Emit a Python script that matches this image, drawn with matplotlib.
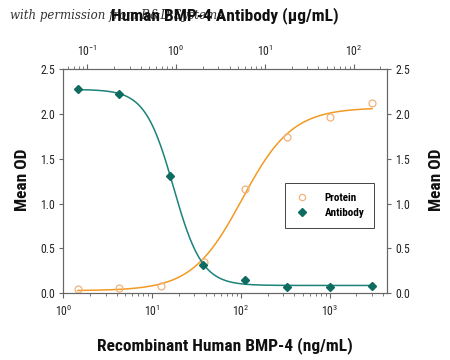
import numpy as np
import matplotlib
matplotlib.use("Agg")
import matplotlib.pyplot as plt
from matplotlib import font_manager
from matplotlib.ticker import LogLocator, LogFormatterSciNotation, NullFormatter, MultipleLocator, FormatStrFormatter
from matplotlib.lines import Line2D

# ---------------- data ----------------
protein_conc = [1.46, 4.2, 12.5, 38, 112, 333, 1000, 3000]          # ng/mL
protein_od = [0.05, 0.06, 0.085, 0.35, 1.16, 1.74, 1.96, 2.12]
antibody_conc = [0.079, 0.226, 0.855, 2.01, 6.05, 18.0, 54.2, 161]  # ug/mL
antibody_od = [2.28, 2.22, 1.31, 0.32, 0.15, 0.07, 0.07, 0.085]

bottom_lim = [1.0, 4400.0]
top_lim = [0.0536, 236.0]
y_lim = [0.0, 2.5]

title_text = "Human BMP-4 Antibody (\u00b5g/mL)"
xlabel_text = "Recombinant Human BMP-4 (ng/mL)"
ylabel_text = "Mean OD"
watermark_text = "with permission from R&D Systems"
legend_labels = ["Protein", "Antibody"]

# ---------------- fonts ----------------
def pick(cands):
    for c in cands:
        try:
            font_manager.findfont(font_manager.FontProperties(family=c), fallback_to_default=False)
            return c
        except Exception:
            pass
    return "DejaVu Sans"

cond = pick(["Liberation Sans Narrow", "Roboto Condensed", "Open Sans Condensed", "Noto Sans", "Liberation Sans"])
plt.rcParams['font.family'] = [cond, 'DejaVu Sans']
plt.rcParams['mathtext.default'] = 'regular'

# ---------------- 4PL fit ----------------
def fourpl_fit(x, y):
    lx = np.log10(np.asarray(x, float))
    y = np.asarray(y, float)
    best = None
    for lc in np.linspace(lx.min(), lx.max(), 300):
        for b in np.linspace(0.4, 4.0, 200):
            g = 1.0 / (1.0 + 10 ** (b * (lx - lc)))
            A = np.vstack([g, 1 - g]).T
            coef, res, *_ = np.linalg.lstsq(A, y, rcond=None)
            r = np.sum((A @ coef - y) ** 2)
            if best is None or r < best[0]:
                best = (r, lc, b, coef)
    _, lc, b, coef = best
    def f(xx):
        g = 1.0 / (1.0 + 10 ** (b * (np.log10(xx) - lc)))
        return coef[0] * g + coef[1] * (1 - g)
    return f

fp = fourpl_fit(protein_conc, protein_od)
fa = fourpl_fit(antibody_conc, antibody_od)

# ---------------- figure ----------------
fig = plt.figure(figsize=(4.5, 3.6), dpi=100)
ax = fig.add_axes([0.1407, 0.1853, 0.7186, 0.623])
ax2 = ax.twiny()

orange_line = '#F29A22'
orange_mk = '#F2B27A'
teal_line = '#1B8379'
teal_mk = '#0E6B60'

xp = np.logspace(np.log10(protein_conc[0]), np.log10(protein_conc[-1]), 300)
ax.plot(xp, fp(xp), color=orange_line, lw=1.1, zorder=2)
ax.plot(protein_conc, protein_od, 'o', ms=5, mfc='none', mec=orange_mk, mew=0.9, zorder=3)

xa = np.logspace(np.log10(antibody_conc[0]), np.log10(antibody_conc[-1]), 300)
ax2.plot(xa, fa(xa), color=teal_line, lw=1.1, zorder=2)
ax2.plot(antibody_conc, antibody_od, 'D', ms=4.2, mfc=teal_mk, mec=teal_mk, zorder=3)

for a in (ax, ax2):
    a.set_xscale('log')
ax.set_xlim(*bottom_lim)
ax2.set_xlim(*top_lim)
ax.set_ylim(*y_lim)

spine_c = '#666666'
for a in (ax, ax2):
    for s in a.spines.values():
        s.set_color(spine_c)
        s.set_linewidth(0.8)

ax.yaxis.set_major_locator(MultipleLocator(0.5))
ax.yaxis.set_major_formatter(FormatStrFormatter('%.1f'))
ax.tick_params(axis='y', which='both', left=True, right=True, labelleft=True, labelright=True,
               direction='out', length=3, width=0.8, color=spine_c, labelsize=8.5, pad=3, labelcolor='#222222')

for a, side in ((ax, 'bottom'), (ax2, 'top')):
    a.xaxis.set_major_locator(LogLocator(base=10, numticks=10))
    a.xaxis.set_minor_locator(LogLocator(base=10, subs=np.arange(2, 10), numticks=20))
    a.xaxis.set_major_formatter(LogFormatterSciNotation())
    a.xaxis.set_minor_formatter(NullFormatter())
    a.tick_params(axis='x', which='major', direction='out', length=3.5, width=0.8,
                  color=spine_c, labelsize=8.5, pad=4, labelcolor='#222222')
    a.tick_params(axis='x', which='minor', direction='out', length=2, width=0.6, color=spine_c)

# labels
lab_kw = dict(fontsize=12.5, fontweight='bold', color='#111111')
fig.text(0.5, 0.040, xlabel_text, ha='center', va='center', **lab_kw)
fig.text(0.5, 0.958, title_text, ha='center', va='center', zorder=5, **lab_kw)
fig.text(0.049, 0.50, ylabel_text, ha='center', va='center', rotation=90, **lab_kw)
fig.text(0.971, 0.50, ylabel_text, ha='center', va='center', rotation=90, **lab_kw)
fig.text(0.022, 0.958, watermark_text, ha='left', va='center', fontsize=8.5, style='italic',
         family=['DejaVu Serif', 'Liberation Serif'], color='#333333', zorder=1)

# legend
h1 = Line2D([], [], marker='o', ls='none', ms=4.5, mfc='none', mec=orange_mk, mew=0.9)
h2 = Line2D([], [], marker='D', ls='none', ms=3.8, mfc=teal_mk, mec=teal_mk)
leg = ax2.legend([h1, h2], legend_labels, loc='upper left', bbox_to_anchor=(0.684, 0.493),
                 frameon=True, fancybox=False, edgecolor='#444444', framealpha=1,
                 prop=dict(size=8, weight='bold'), handletextpad=1.3, borderpad=0.9,
                 labelspacing=0.5, handlelength=1.4, borderaxespad=0)
leg.get_frame().set_linewidth(0.7)

fig.savefig('out.png', dpi=100)
